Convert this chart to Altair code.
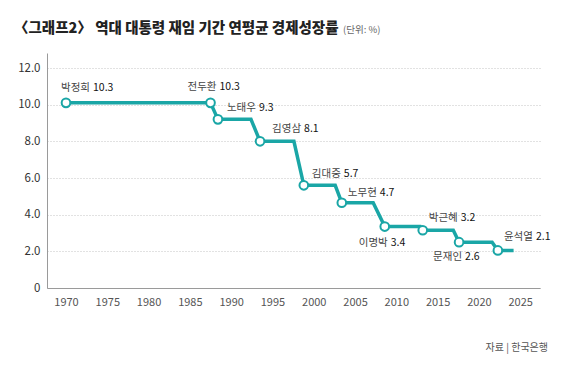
import altair as alt
import pandas as pd

FONT = "Noto Sans CJK KR"
TEAL = "#1aa6a6"

title_text = "〈그래프2〉 역대 대통령 재임 기간 연평균 경제성장률"
unit_text = "(단위: %)"
source_text = "자료 | 한국은행"

presidents = ["박정희", "전두환", "노태우", "김영삼", "김대중", "노무현", "이명박", "박근혜", "문재인", "윤석열"]
growth_labels = [10.3, 10.3, 9.3, 8.1, 5.7, 4.7, 3.4, 3.2, 2.6, 2.1]
plotted = [10.1, 10.1, 9.2, 8.0, 5.6, 4.65, 3.35, 3.15, 2.5, 2.05]
start_year = [1970, 1987.5, 1988.4, 1993.5, 1998.8, 2003.4, 2008.6, 2013.2, 2017.6, 2022.3]
end_year = [1987.5, 1987.5, 1992.4, 1997.6, 2002.6, 2007.2, 2012.9, 2016.9, 2021.6, 2024.2]

x_ticks = list(range(1970, 2030, 5))
y_ticks = [0, 2, 4, 6, 8, 10, 12]

# label offsets (px) relative to each point
label_dx = [-5, -23, 9, 12, 8, 6, -26, 6, -26, 6]
label_dy = [-15, -16, -11, -12, -11, -10, 16, -12, 15, -13]

rows = []
for i in range(len(presidents)):
    rows.append({"year": start_year[i], "v": plotted[i], "o": 2 * i})
    rows.append({"year": end_year[i], "v": plotted[i], "o": 2 * i + 1})
line_df = pd.DataFrame(rows)

pts_df = pd.DataFrame({
    "name": presidents,
    "year": start_year,
    "v": plotted,
    "val": [f"{g:.1f}" for g in growth_labels],
})

x_enc = alt.X("year:Q",
              scale=alt.Scale(domain=[1967.7, 2027.4], nice=False, zero=False),
              axis=alt.Axis(values=x_ticks, format="d", title=None, grid=False,
                            ticks=False, labelPadding=8, labelFontSize=11,
                            labelOverlap=False,
                            labelColor="#555", domainColor="#9a9a9a"))
y_enc = alt.Y("v:Q",
              scale=alt.Scale(domain=[0, 12.82], nice=False),
              axis=alt.Axis(values=y_ticks, title=None, grid=True,
                            gridDash=[1, 2], gridColor="#c4c4c4",
                            labelExpr="datum.value == 0 ? '0' : format(datum.value, '.1f')",
                            labelOverlap=False,
                            ticks=False, labelPadding=7, labelFontSize=11.5,
                            labelColor="#333", domainColor="#9a9a9a"))

line = alt.Chart(line_df).mark_line(color=TEAL, strokeWidth=3.5, strokeJoin="miter").encode(
    x=x_enc, y=y_enc, order="o:Q")

points = alt.Chart(pts_df).mark_point(
    filled=True, fill="white", stroke=TEAL, strokeWidth=2, size=75, opacity=1
).encode(x=x_enc, y=y_enc)

layers = [line, points]
for i, n in enumerate(presidents):
    sub = alt.Chart(pts_df).transform_filter(alt.datum.name == n)
    layers.append(sub.mark_text(align="left", baseline="middle", dx=label_dx[i], dy=label_dy[i],
                                font=FONT, fontSize=10.5, color="#444").encode(
        x=x_enc, y=y_enc, text="name:N"))
    layers.append(sub.mark_text(align="left", baseline="middle", dx=label_dx[i] + 32, dy=label_dy[i],
                                font=FONT, fontSize=10.5, fontWeight="normal", color="#111").encode(
        x=x_enc, y=y_enc, text="val:N"))

one = pd.DataFrame({"t": [0]})
title = alt.Chart(one).mark_text(align="left", baseline="middle", font=FONT, fontSize=14.5,
                                 fontWeight=900, color="#222").encode(
    x=alt.value(-33), y=alt.value(-24), text=alt.value(title_text))
unit = alt.Chart(one).mark_text(align="left", baseline="middle", font=FONT, fontSize=9.5,
                                color="#666").encode(
    x=alt.value(296), y=alt.value(-23), text=alt.value(unit_text))
source = alt.Chart(one).mark_text(align="right", baseline="middle", font=FONT, fontSize=10,
                                  color="#555").encode(
    x=alt.value(501), y=alt.value(295), text=alt.value(source_text))

layers += [title, unit, source]

chart = alt.layer(*layers).properties(
    width=493, height=235,
    autosize=alt.AutoSizeParams(type="none"),
    padding={"left": 39, "top": 45, "right": 28, "bottom": 75},
).configure_view(stroke=None).configure_axis(labelFont=FONT)

chart.save("out.html", embed_options={"renderer": "svg", "actions": False})
